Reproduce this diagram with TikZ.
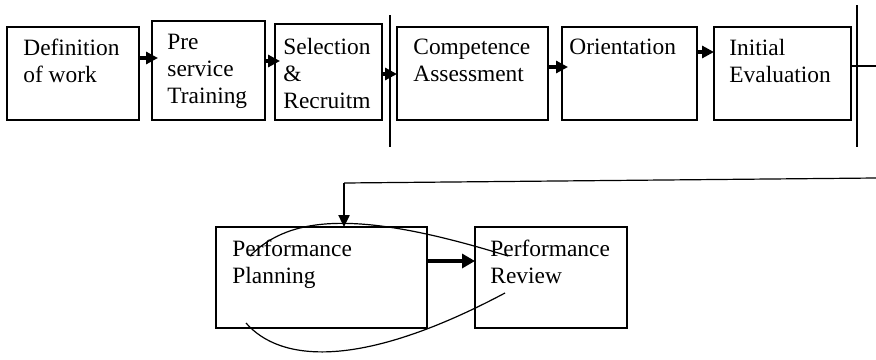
\documentclass[tikz,border=0pt]{standalone}
\usepackage{fontspec}
\setmainfont{Liberation Serif}
\usetikzlibrary{arrows.meta}
\tikzset{
    stage chart/.style={
            x=0.5pt,y=-0.5pt,
            font=\fontsize{11.7pt}{13.5pt}\selectfont,
            box/.style={draw,line width=0.6pt,inner sep=0pt,outer sep=0pt},
            txt/.style={anchor=north west,align=left,inner sep=0pt},
            arrow/.style={-{Triangle[length=6pt,width=6pt]},line width=2.2pt},
            big arrow/.style={-{Triangle[length=6.5pt,width=7pt]},line width=2pt},
            thin arrow/.style={-{Triangle[length=6pt,width=5.5pt]},line width=1.2pt},
            rule/.style={line width=0.6pt}
        }
    }
\begin{document}
\begin{tikzpicture}[stage chart]
        \useasboundingbox (0,0) rectangle (876,359);

        % first row
        \node [box, minimum width=66pt, minimum height=46.5pt] (defwork) at (73,73.5) {};
        \node [box, minimum width=56.5pt, minimum height=49.5pt] (pre) at (208.5,70.5) {};
        \node [box, minimum width=53.5pt, minimum height=48pt] (select) at (328.5,72) {};
        \node [box, minimum width=75.5pt, minimum height=46.5pt] (compet) at (472.5,73.5) {};
        \node [box, minimum width=67.5pt, minimum height=46.5pt] (orient) at (629.5,73.5) {};
        \node [box, minimum width=68.5pt, minimum height=46.5pt] (initial) at (782.5,73.5) {};

        \node [txt] (deftxt) at (23,39) {Definition\\of work};
        \node [txt] (pretxt) at (167,34) {Pre\\service\\Training};
        \node [txt] (selecttxt) at (283,38) {Selection\\\&\\Recruitm};
        \node [txt] (compettxt) at (413,39) {Competence\\Assessment};
        \node [txt] (orienttxt) at (569,39) {Orientation};
        \node [txt] (initialtxt) at (729,39) {Initial\\Evaluation};

        \draw [arrow] ([yshift=7.75pt]defwork.east) -- ([xshift=3pt,yshift=7.75pt]defwork.east -| pre.west);
        \draw [arrow] ([yshift=4.75pt]pre.east) -- ([xshift=2.5pt,yshift=4.75pt]pre.east -| select.west);
        \draw [arrow] ([yshift=-1pt]select.east) -- ([yshift=-1pt]select.east -| compet.west);
        \draw [arrow] ([yshift=3.25pt]compet.east) -- ([xshift=3pt,yshift=3.25pt]compet.east -| orient.west);
        \draw [arrow] ([yshift=10.75pt]orient.east) -- ([yshift=10.75pt]orient.east -| initial.west);

        % separators
        \coordinate (sepA top) at (390,15);
        \coordinate (sepA bot) at (390,147);
        \coordinate (sepB top) at (857,5);
        \coordinate (sepB bot) at (857,147);
        \coordinate (out) at (876,66);
        \draw [rule] (sepA top) -- (sepA bot);
        \draw [rule] (sepB top) -- (sepB bot);
        \draw [rule] ([yshift=3.75pt]initial.east) -- (out);

        % second row
        \node [box, minimum width=105.5pt, minimum height=50.5pt] (plan) at (321.5,277.5) {};
        \node [box, minimum width=76pt, minimum height=50.5pt] (review) at (551,277.5) {};

        \node [txt] (plantxt) at (232,240) {Performance\\Planning};
        \node [txt] (reviewtxt) at (490,240) {Performance\\Review};

        \draw [big arrow] ([yshift=8.25pt]plan.east) -- ([yshift=8.25pt]plan.east -| review.west);

        % feedback
        \coordinate (back) at (876,178);
        \coordinate (turn) at (344,183);
        \draw [rule] (back) -- (turn);
        \draw [thin arrow] (turn) -- (plan.north -| turn);

        \draw [rule] (250,256) .. controls (290,215) and (360,210) .. (508,256);
        \draw [rule] (246,323) .. controls (280,362) and (360,370) .. (505,293);
    \end{tikzpicture}
\end{document}
